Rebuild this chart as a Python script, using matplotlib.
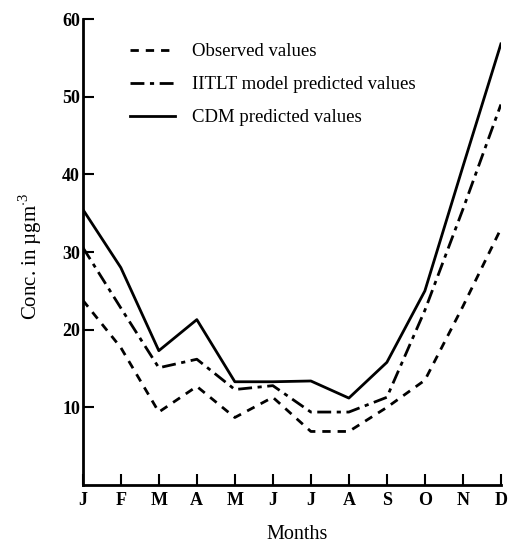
import numpy as np
import matplotlib.pyplot as plt

plt.rcParams["font.family"] = ["Liberation Serif", "DejaVu Serif"]
plt.rcParams["font.size"] = 11
plt.rcParams["mathtext.fontset"] = "custom"
plt.rcParams["mathtext.rm"] = "Liberation Serif"

months = ["J", "F", "M", "A", "M", "J", "J", "A", "S", "O", "N", "D"]
observed = [23.8, 17.7, 9.4, 12.7, 8.7, 11.3, 6.9, 6.9, 10.0, 13.5, 23.0, 33.0]
itlt = [30.6, 22.8, 15.1, 16.2, 12.3, 12.8, 9.4, 9.4, 11.3, 22.5, 35.5, 49.0]
cdm = [35.5, 28.0, 17.3, 21.3, 13.3, 13.3, 13.4, 11.2, 15.8, 25.0, 41.0, 56.8]

x = np.arange(len(months))

fig = plt.figure(figsize=(5.08, 5.45), dpi=100)
ax = fig.add_axes([0.163, 0.110, 0.823, 0.855])

ax.plot(x, observed, color="black", lw=2, ls=(0, (3, 2.5)), label="Observed values")
ax.plot(x, itlt, color="black", lw=2, ls=(0, (5, 2, 1.5, 2)), label="IITLT model predicted values")
ax.plot(x, cdm, color="black", lw=2, ls="-", label="CDM predicted values")

ax.set_xlim(0, 11)
ax.set_ylim(0, 60)
ax.set_xticks(x)
ax.set_xticklabels(months, fontweight="bold")
ax.set_yticks([10, 20, 30, 40, 50, 60])
ax.tick_params(axis="both", direction="in", length=8, width=1.5, labelsize=13)
ax.tick_params(axis="x", pad=5)
ax.tick_params(axis="y", pad=2)
for lab in ax.get_yticklabels():
    lab.set_fontweight("bold")

for s in ["top", "right"]:
    ax.spines[s].set_visible(False)
for s in ["left", "bottom"]:
    ax.spines[s].set_linewidth(2)

ax.set_xlabel("Months", fontsize=14.5)
ax.xaxis.set_label_coords(0.512, -0.085)
ax.set_ylabel("Conc. in \u00b5gm$^{\\cdot3}$", fontsize=15)
ax.yaxis.set_label_coords(-0.092, 0.491)

ax.legend(loc="upper left", bbox_to_anchor=(0.073, 0.985), frameon=False,
          handlelength=2.4, handletextpad=0.9, labelspacing=0.85,
          prop={"size": 13.5})

fig.savefig("out.png", dpi=100)
